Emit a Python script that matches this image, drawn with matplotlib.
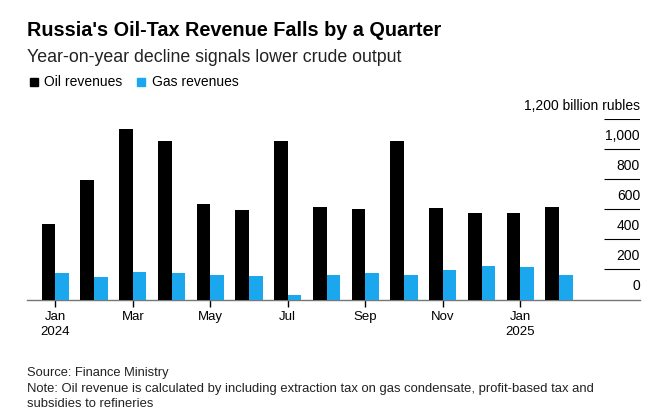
import matplotlib
matplotlib.use("Agg")
import matplotlib.pyplot as plt
import numpy as np
from matplotlib.patches import Rectangle

plt.rcParams['font.family'] = ['Liberation Sans', 'DejaVu Sans']

months = ["Jan 2024", "Feb 2024", "Mar 2024", "Apr 2024", "May 2024", "Jun 2024", "Jul 2024",
          "Aug 2024", "Sep 2024", "Oct 2024", "Nov 2024", "Dec 2024", "Jan 2025", "Feb 2025"]
oil_revenues = [503, 798, 1136, 1058, 636, 593, 1058, 618, 603, 1053, 609, 573, 576, 613]
gas_revenues = [176, 153, 180, 178, 163, 158, 27, 165, 176, 165, 198, 220, 218, 163]
tick_labels = ["Jan\n2024", "Mar", "May", "Jul", "Sep", "Nov", "Jan\n2025"]
y_ticks = [0, 200, 400, 600, 800, 1000, 1200]
y_tick_labels = ["0", "200", "400", "600", "800", "1,000", "1,200 billion rubles"]

W, H = 669, 419
fig = plt.figure(figsize=(W / 100, H / 100), dpi=100)

left, right = 27 / W, 640 / W
bottom, top = 1 - 299.5 / H, 1 - 119.3 / H
ax = fig.add_axes([left, bottom, right - left, top - bottom])

x = np.arange(len(months))
w = 0.35
ax.bar(x - w / 2, oil_revenues, width=w, color="#000000", zorder=3)
ax.bar(x + w / 2, gas_revenues, width=w, color="#1aa7ee", zorder=3)

ax.set_xlim(-0.73, 15.09)
ax.set_ylim(0, 1200)

for s in ["top", "right", "left"]:
    ax.spines[s].set_visible(False)
ax.spines["bottom"].set_color("#777777")
ax.spines["bottom"].set_linewidth(1.0)

ax.set_yticks([])
ax.set_xticks(x[::2])
ax.set_xticklabels(tick_labels, fontsize=9.5, color="#000000", linespacing=1.35)
ax.tick_params(axis="x", length=5, width=1, color="#000000", pad=3)

# short gridlines under the right-side labels, labels sitting above them
for yv, lab in zip(y_ticks, y_tick_labels):
    if yv > 0:
        ax.hlines(yv, 14.16, 15.09, color="#000000", linewidth=0.8, zorder=2)
    ax.annotate(lab, xy=(15.09, yv), xytext=(0, 4.5), textcoords="offset points",
                ha="right", va="bottom", fontsize=10, color="#000000")


def fy(py):
    return 1 - py / H


fig.text(27 / W, fy(30), "Russia's Oil-Tax Revenue Falls by a Quarter", fontsize=14.3,
         fontweight="bold", ha="left", va="center")
fig.text(27 / W, fy(57), "Year-on-year decline signals lower crude output", fontsize=12.8,
         ha="left", va="center", color="#222222")

# legend
fig.patches.append(Rectangle((30 / W, fy(86)), 8 / W, 8 / H, transform=fig.transFigure,
                             color="#000000"))
fig.text(44 / W, fy(81.5), "Oil revenues", fontsize=10, ha="left", va="center")
fig.patches.append(Rectangle((137 / W, fy(86)), 8 / W, 8 / H, transform=fig.transFigure,
                             color="#1aa7ee"))
fig.text(152 / W, fy(81.5), "Gas revenues", fontsize=10, ha="left", va="center")

fig.text(27 / W, fy(373), "Source: Finance Ministry", fontsize=9.3, ha="left", va="center",
         color="#222222")
fig.text(27 / W, fy(389), "Note: Oil revenue is calculated by including extraction tax on gas condensate, profit-based tax and",
         fontsize=9.4, ha="left", va="center", color="#222222")
fig.text(27 / W, fy(404), "subsidies to refineries", fontsize=9.4, ha="left", va="center",
         color="#222222")

fig.savefig("out.png", dpi=100, facecolor="white")
